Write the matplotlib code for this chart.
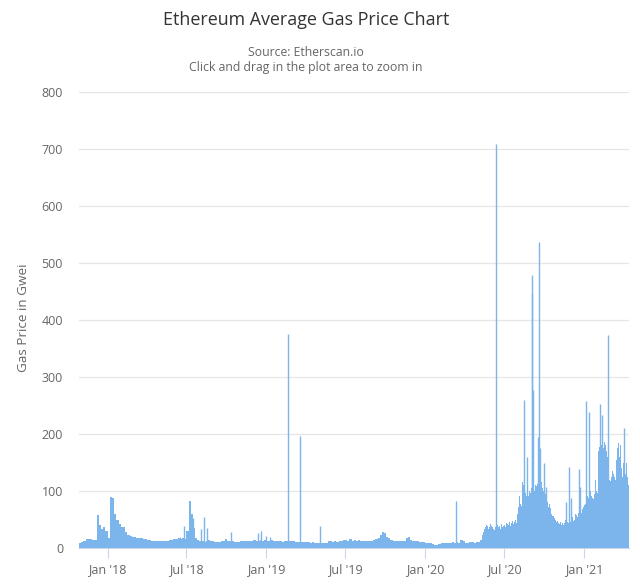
import matplotlib
matplotlib.use("Agg")
import matplotlib.pyplot as plt
import pandas as pd

BLUE = "#7cb5ec"
TITLE = "Ethereum Average Gas Price Chart"
SUB1 = "Source: Etherscan.io"
SUB2 = "Click and drag in the plot area to zoom in"
YLABEL = "Gas Price in Gwei"
y_ticks = [0, 100, 200, 300, 400, 500, 600, 700, 800]
x_ticks = ["2018-01-01", "2018-07-01", "2019-01-01", "2019-07-01", "2020-01-01", "2020-07-01", "2021-01-01"]
x_tick_labels = ["Jan '18", "Jul '18", "Jan '19", "Jul '19", "Jan '20", "Jul '20", "Jan '21"]

# Gas price envelope, one list per period
late_2017 = [9, 11, 13, 15, 15, 15, 14, 14, 58, 40, 34, 36, 30]
h1_2018 = [18, 90, 88, 60, 50, 42, 36, 37, 28, 23, 21, 20, 19, 18, 17, 17, 16, 15, 14, 14, 13, 13, 12, 12, 12, 13, 12, 13, 14, 14, 15, 16, 17, 15, 18, 16]
h2_2018 = [30, 83, 60, 35, 18, 14, 13, 12, 11, 12, 14, 13, 12, 11, 10, 11, 12, 13, 15, 13, 12, 12, 11, 10, 11, 12, 12, 13, 12, 13, 12, 14, 13, 12, 14, 13, 14]
h1_2019 = [13, 12, 14, 13, 12, 13, 12, 11, 12, 13, 12, 13, 12, 11, 10, 11, 10, 11, 10, 10, 9, 10, 9, 9, 8, 8, 8, 9, 13, 12, 11, 12, 11, 12, 13, 14]
h2_2019 = [14, 13, 15, 12, 14, 13, 14, 13, 12, 13, 12, 13, 12, 14, 15, 18, 22, 28, 26, 20, 17, 14, 13, 12, 12, 13, 12, 12, 18, 20, 14, 13, 12, 12, 11, 10, 10]
early_2020 = [9, 9, 8, 7, 6, 5, 7, 8, 9, 9, 8, 9, 10, 9, 10, 9, 14, 12, 9, 9, 10, 10, 9, 10, 11, 14]
mid_2020 = [22, 28, 33, 36, 40, 38, 34, 36, 42, 38, 36, 34, 32, 36, 34, 40, 36, 38, 34, 42, 36, 38, 40, 37, 44, 42, 40, 46, 38, 44, 48, 42, 46, 50, 44, 60, 72, 92, 78, 74]
fall_2020 = [115, 110, 100, 96, 92, 96, 92, 100, 96, 105, 100, 104, 100, 110, 108, 112, 120, 125, 110, 115, 105, 100, 92, 95, 85, 80, 72, 78, 70, 66, 60]
winter_2020 = [56, 52, 50, 46, 48, 44, 42, 46, 40, 44, 40, 44, 50, 48, 46, 44, 42, 46, 52, 55, 48, 50, 60, 58, 55, 62, 64, 70, 62, 68, 72]
early_2021 = [75, 78, 85, 92, 88, 96, 100, 92, 88, 86, 95, 120, 100, 96, 170, 178, 175, 180, 178, 176, 186, 180, 170, 160, 150, 120, 118, 125, 135, 130, 125, 120, 155, 175, 185, 160, 180, 140, 125, 150, 185, 130, 150, 125, 110]

period_starts = ["2017-10-27", "2018-01-01", "2018-07-01", "2019-01-01", "2019-07-01", "2020-01-01", "2020-05-12", "2020-08-11", "2020-10-20", "2021-01-01"]
period_ends = ["2018-01-01", "2018-07-01", "2019-01-01", "2019-07-01", "2020-01-01", "2020-05-12", "2020-08-11", "2020-10-20", "2021-01-01", "2021-04-14"]
periods = [late_2017, h1_2018, h2_2018, h1_2019, h2_2019, early_2020, mid_2020, fall_2020, winter_2020, early_2021]

spike_dates = ["2018-06-17", "2018-06-26", "2018-07-17", "2018-08-04", "2018-08-11", "2018-08-18", "2018-10-12",
               "2018-12-13", "2018-12-19", "2018-12-30", "2019-01-10", "2019-02-20", "2019-03-19", "2019-05-05",
               "2020-03-13", "2020-06-12", "2020-08-15", "2020-08-23", "2020-09-03", "2020-09-04", "2020-09-06",
               "2020-09-17", "2020-09-19", "2020-09-21", "2020-09-30", "2020-10-05", "2020-10-09", "2020-11-21",
               "2020-11-27", "2020-12-02", "2020-12-20", "2020-12-22", "2021-01-06", "2021-01-12", "2021-02-07",
               "2021-02-12", "2021-02-24", "2021-04-02"]
spike_values = [20, 38, 52, 33, 55, 35, 28, 27, 29, 21, 20, 375, 197, 39,
                83, 708, 260, 160, 447, 479, 277,
                195, 537, 175, 150, 107, 70, 80,
                142, 88, 138, 107, 258, 238, 253,
                233, 374, 210]

plt.rcParams["font.family"] = ["Open Sans", "DejaVu Sans"]
fig = plt.figure(figsize=(6.4, 5.87), dpi=100)
ax = fig.add_axes([79 / 640, 1 - 548 / 587, 550 / 640, 456 / 587])

for start, end, vals in zip(period_starts, period_ends, periods):
    s, e = pd.Timestamp(start), pd.Timestamp(end)
    step = (e - s) / len(vals)
    xs = [s + step * (i + 0.5) for i in range(len(vals))]
    ax.bar(xs, vals, width=step / pd.Timedelta(days=1), color=BLUE, linewidth=0, zorder=3)

ax.vlines(pd.to_datetime(spike_dates), 0, spike_values, color=BLUE, linewidth=1.0, zorder=3)

ax.set_xlim(pd.Timestamp("2017-10-27"), pd.Timestamp("2021-04-14"))
ax.set_ylim(0, 800)
ax.set_yticks(y_ticks)
ax.set_yticklabels([str(v) for v in y_ticks], fontsize=9, color="#666666")
ax.set_xticks(pd.to_datetime(x_ticks))
ax.set_xticklabels(x_tick_labels, fontsize=9, color="#666666")
ax.tick_params(axis="y", length=0, pad=11.5)
ax.tick_params(axis="x", length=7, width=0.8, color="#ccd6eb", pad=4)
ax.grid(axis="y", color="#e6e6e6", linewidth=0.9, zorder=0)
ax.set_axisbelow(True)
for name in ["top", "right", "left"]:
    ax.spines[name].set_visible(False)
ax.spines["bottom"].set_color("#ccd6eb")

fig.text(306 / 640, 1 - 20 / 587, TITLE, ha="center", va="center", fontsize=12.9, color="#333333")
fig.text(306 / 640, 1 - 52 / 587, SUB1, ha="center", va="center", fontsize=8.8, color="#666666")
fig.text(306 / 640, 1 - 67.5 / 587, SUB2, ha="center", va="center", fontsize=8.8, color="#666666")
fig.text(24 / 640, 1 - 318 / 587, YLABEL, ha="center", va="center", rotation=90, fontsize=9.7, color="#666666")

fig.savefig("out.png", dpi=100)
